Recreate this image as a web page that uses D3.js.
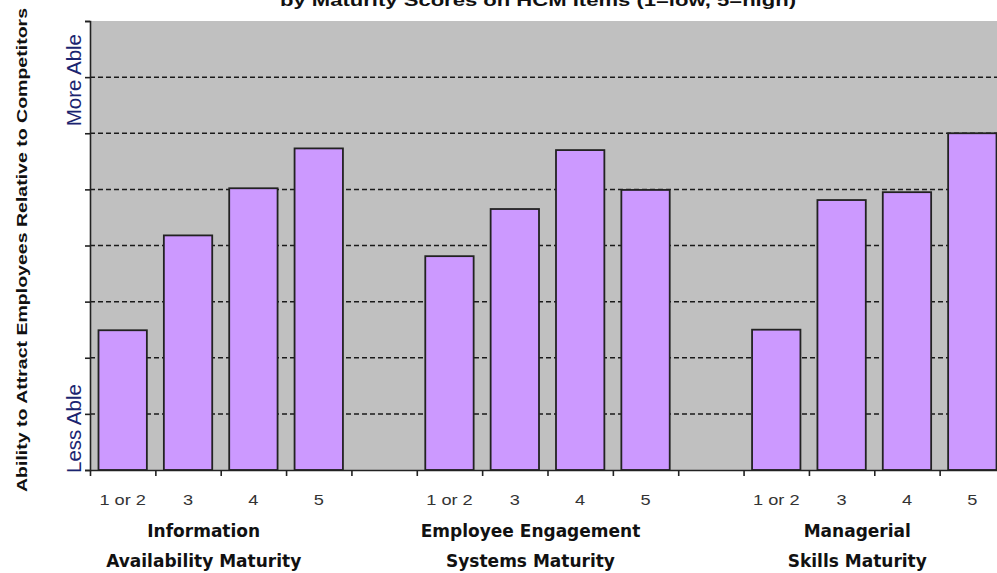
<!DOCTYPE html>
<html>
<head>
<meta charset="utf-8">
<script src="https://cdn.jsdelivr.net/npm/d3@7"></script>
<style>
    body { margin: 0; background: #fff; }
    svg { display: block; }
</style>
</head>
<body>
<svg id="chart"></svg>
<script>
// chart data
const chartTitle = 'by Maturity Scores on HCM Items (1=low, 5=high)'
const yTitle = 'Ability to Attract Employees Relative to Competitors'
const groupNames = [
    ['Information', 'Availability Maturity'],
    ['Employee Engagement', 'Systems Maturity'],
    ['Managerial', 'Skills Maturity'],
]
const scores = ['1 or 2', '3', '4', '5']
const infoValues = [2.49, 4.18, 5.02, 5.73]
const engageValues = [3.81, 4.65, 5.70, 4.99]
const managerValues = [2.50, 4.81, 4.95, 6.00]
const yMax = 8
const lessLabel = 'Less Able'
const moreLabel = 'More Able'

const width = 997
const height = 573
const plotLeft = 90
const plotRight = 1005
const plotTop = 21
const plotBottom = 470
const font = '"Liberation Sans", Arial, sans-serif'

const svg = d3.select('#chart').attr('width', width).attr('height', height)

// 每组4个柱子, 组之间空一格
const seriesValues = [infoValues, engageValues, managerValues]
const slots = []
groupNames.forEach((g, gi) => {
    scores.forEach((s, si) => {
        slots.push({ key: `${gi}-${si}`, group: gi, score: s, value: seriesValues[gi][si] })
    })
    if (gi < groupNames.length - 1) {
        slots.push({ key: `gap-${gi}` })
    }
})
const bars = slots.filter(d => d.value !== undefined)

const x = d3.scaleBand()
    .domain(slots.map(d => d.key))
    .range([plotLeft, plotRight])
    .paddingInner(0.26)
    .paddingOuter(0.13)

const y = d3.scaleLinear()
    .domain([0, yMax])
    .range([plotBottom, plotTop])

// plot background
svg.append('rect')
    .attr('x', plotLeft).attr('y', plotTop)
    .attr('width', plotRight - plotLeft).attr('height', plotBottom - plotTop)
    .attr('fill', '#c0c0c0')

// dashed grid
svg.append('g').selectAll('line')
    .data(y.ticks(yMax).filter(v => v > 0 && v < yMax))
    .enter().append('line')
    .attr('x1', plotLeft).attr('x2', plotRight)
    .attr('y1', v => y(v)).attr('y2', v => y(v))
    .attr('stroke', '#1a1a1a')
    .attr('stroke-width', 1.5)
    .attr('stroke-dasharray', '5,3')

// bars
svg.append('g').selectAll('rect')
    .data(bars).enter()
    .append('rect')
    .attr('x', d => x(d.key))
    .attr('y', d => y(d.value))
    .attr('width', x.bandwidth())
    .attr('height', d => y(0) - y(d.value))
    .attr('fill', '#cc99ff')
    .attr('stroke', '#222')
    .attr('stroke-width', 1.8)

// y axis, no labels
const yAxis = svg.append('g')
    .attr('transform', `translate(${plotLeft}, 0)`)
    .call(d3.axisLeft(y).ticks(yMax).tickSize(5).tickSizeOuter(5).tickFormat(''))
yAxis.selectAll('path, line').attr('stroke', '#222').attr('stroke-width', 1.6)

// x axis, ticks on slot boundaries
const half = x.step() * x.paddingInner() / 2
const boundaries = slots.map(d => x(d.key) - half).concat([plotRight])
const xAxis = svg.append('g')
    .attr('transform', `translate(0, ${plotBottom})`)
    .call(d3.axisBottom(d3.scaleIdentity().domain([plotLeft, plotRight]))
        .tickValues(boundaries).tickSize(6).tickSizeOuter(0).tickFormat(''))
xAxis.selectAll('path, line').attr('stroke', '#222').attr('stroke-width', 1.6)

// score labels
svg.append('g').selectAll('text')
    .data(bars).enter()
    .append('text')
    .text(d => d.score)
    .attr('transform', d => `translate(${x(d.key) + x.bandwidth() / 2}, 505) scale(1.3, 1)`)
    .attr('text-anchor', 'middle')
    .attr('font-family', font)
    .attr('font-size', 14)
    .attr('fill', '#333')

// group labels
groupNames.forEach((lines, gi) => {
    const first = x(`${gi}-0`)
    const last = x(`${gi}-${scores.length - 1}`) + x.bandwidth()
    const cx = (first + last) / 2 - 17
    lines.forEach((line, li) => {
        svg.append('text')
            .text(line)
            .attr('x', cx)
            .attr('y', 537 + li * 30)
            .attr('text-anchor', 'middle')
            .attr('font-family', '"DejaVu Sans", Verdana, sans-serif')
            .attr('font-weight', 'bold')
            .attr('font-size', 17)
            .attr('fill', '#111')
    })
})

// axis title
svg.append('text')
    .text(yTitle)
    .attr('transform', 'translate(27, 250) rotate(-90)')
    .attr('text-anchor', 'middle')
    .attr('font-family', font)
    .attr('font-weight', 'bold')
    .attr('font-size', 15)
    .attr('textLength', 484)
    .attr('lengthAdjust', 'spacingAndGlyphs')
    .attr('fill', '#111')

// less / more able
svg.append('text')
    .text(lessLabel)
    .attr('transform', `translate(81, ${y(0) + 3}) rotate(-90)`)
    .attr('text-anchor', 'start')
    .attr('font-family', font)
    .attr('font-size', 20.5)
    .attr('fill', '#1a2470')
svg.append('text')
    .text(moreLabel)
    .attr('transform', `translate(81, ${y(yMax - 1) + 3}) rotate(-90)`)
    .attr('text-anchor', 'middle')
    .attr('font-family', font)
    .attr('font-size', 20.5)
    .attr('fill', '#1a2470')

// chart title, cut at the top like the source
svg.append('text')
    .text(chartTitle)
    .attr('x', 538)
    .attr('y', 6)
    .attr('text-anchor', 'middle')
    .attr('font-family', font)
    .attr('font-weight', 'bold')
    .attr('font-size', 16)
    .attr('textLength', 516)
    .attr('lengthAdjust', 'spacingAndGlyphs')
    .attr('fill', '#111')
</script>
</body>
</html>
